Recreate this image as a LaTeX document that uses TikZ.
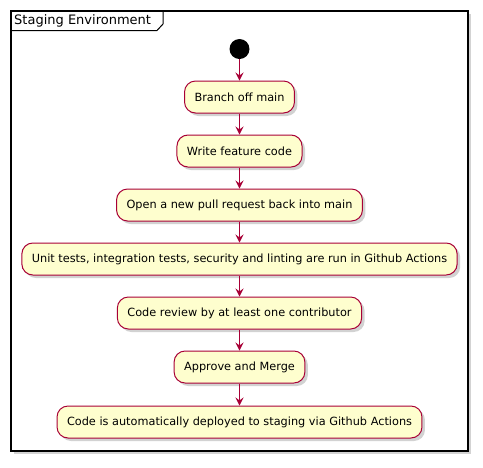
\documentclass[tikz,border=0pt]{standalone}
\usepackage{fontspec}
\setmainfont{DejaVu Sans}
\usetikzlibrary{arrows.meta,shadows}
\definecolor{umlred}{HTML}{A80036}
\definecolor{umlfill}{HTML}{FEFECE}
\begin{document}
\begin{tikzpicture}[x=1pt,y=-1pt,
    act/.style={draw=umlred,fill=umlfill,line width=1pt,rounded corners=11pt,
      minimum height=32pt,inner xsep=10pt,font=\fontsize{11.3}{13}\selectfont,
      drop shadow={shadow xshift=3pt,shadow yshift=-3pt,opacity=0.35}},
    flow/.style={draw=umlred,line width=1pt,-{Stealth[length=8pt,width=8pt,inset=3pt]}}]
  \useasboundingbox (0,0) rectangle (483,467);
  % frame
  \draw[line width=1.5pt,fill=white,drop shadow={shadow xshift=3pt,shadow yshift=-3pt,opacity=0.35}]
    (11,11) rectangle (468,451);
  \draw[line width=1pt] (11,30.5) -- (157,30.5) -- (163,24) -- (163,11);
  \node[anchor=west,inner sep=0,font=\fontsize{13}{15}\selectfont] (title) at (14,20.5) {Staging Environment};
  % activities
  \node[circle,fill=black,minimum size=20pt,inner sep=0] (start) at (239.5,49) {};
  \node[act] (branch) at (239.5,97) {Branch off main};
  \node[act] (write) at (239.5,151) {Write feature code};
  \node[act] (pr) at (239.5,205) {Open a new pull request back into main};
  \node[act] (tests) at (239.5,259) {Unit tests, integration tests, security and linting are run in Github Actions};
  \node[act] (review) at (239.5,313) {Code review by at least one contributor};
  \node[act] (merge) at (239.5,367) {Approve and Merge};
  \node[act] (deploy) at (239.5,422) {Code is automatically deployed to staging via Github Actions};
  \foreach \a/\b in {start/branch,branch/write,write/pr,pr/tests,tests/review,review/merge,merge/deploy}
  \draw[flow] (\a) -- (\b);
\end{tikzpicture}
\end{document}
